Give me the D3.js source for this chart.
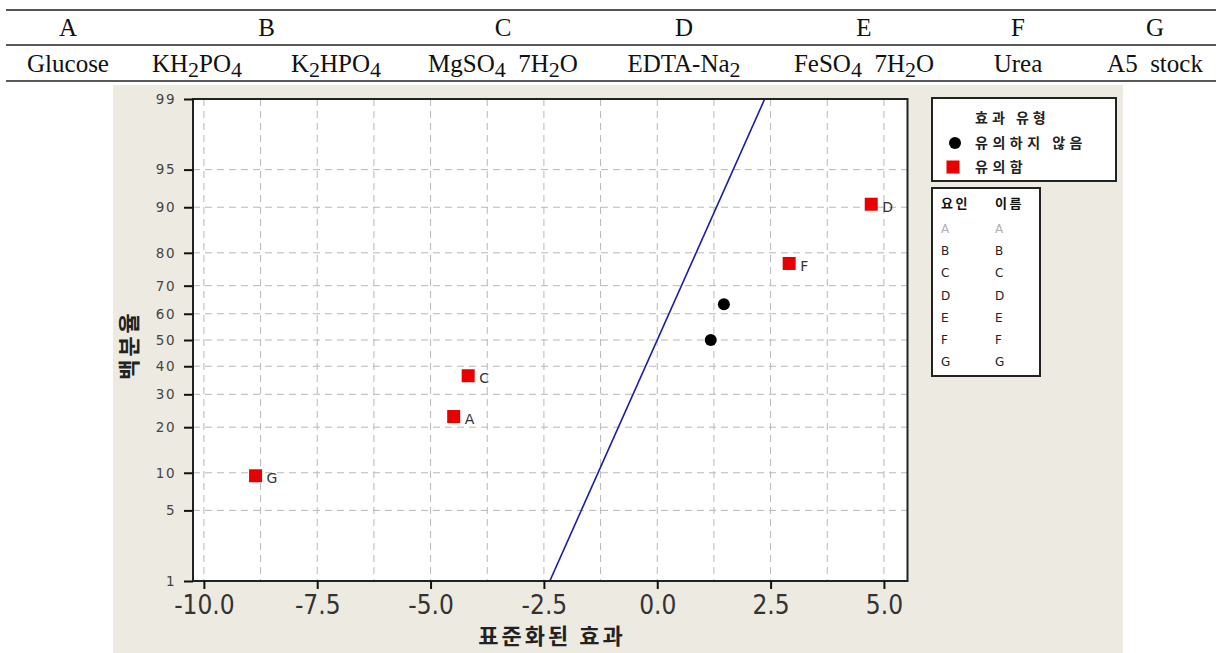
<!DOCTYPE html>
<html><head><meta charset="utf-8">
<script src="https://cdn.jsdelivr.net/npm/d3@7"></script>
<style>
body{margin:0;background:#fff}
svg{display:block}
</style>
</head><body>
<svg id="chart" width="1220" height="653"></svg>
<script>
// Factor table: codes and component names ("_d" marks a subscript digit)
const factorCodes = ["A","B","C","D","E","F","G"];
const componentNames = ["Glucose","KH_2PO_4","K_2HPO_4","MgSO_4  7H_2O","EDTA-Na_2","FeSO_4  7H_2O","Urea","A5  stock"];
const componentFactor = ["A","B","B","C","D","E","F","G"];

// Standardized effects with their normal-probability percentiles
const effectLabels = ["G","A","C","B","E","F","D"];
const effectValues = [-8.86, -4.49, -4.17, 1.18, 1.47, 2.91, 4.72];
const effectPercents = [9.5, 23.0, 36.5, 50.0, 63.5, 77.0, 90.5];
const effectSignificant = [true, true, true, false, false, true, true];

// Reference line end points (effect, percent)
const refEffects = [-2.37, 2.37];
const refPercents = [1, 99];

// Axis ticks
const xTickValues = [-10, -7.5, -5, -2.5, 0, 2.5, 5];
const yTickPercents = [1, 5, 10, 20, 30, 40, 50, 60, 70, 80, 90, 95, 99];

// Legend texts
const legendTitle = "효과 유형";
const legendItems = ["유의하지 않음", "유의함"];
const factorListHeader = ["요인", "이름"];
const xTitle = "표준화된 효과";
const yTitle = "백분율";

// Inverse standard normal CDF (Acklam's rational approximation)
function probit(p){
  const a=[-3.969683028665376e+01,2.209460984245205e+02,-2.759285104469687e+02,1.383577518672690e+02,-3.066479806614716e+01,2.506628277459239e+00];
  const b=[-5.447609879822406e+01,1.615858368580409e+02,-1.556989798598866e+02,6.680131188771972e+01,-1.328068155288572e+01];
  const c=[-7.784894002430293e-03,-3.223964580411365e-01,-2.400758277161838e+00,-2.549732539343734e+00,4.374664141464968e+00,2.938163982698783e+00];
  const d=[7.784695709041462e-03,3.224671290700398e-01,2.445134137142996e+00,3.754408661907416e+00];
  const pl=0.02425;
  let q,r;
  if(p<pl){q=Math.sqrt(-2*Math.log(p));return (((((c[0]*q+c[1])*q+c[2])*q+c[3])*q+c[4])*q+c[5])/((((d[0]*q+d[1])*q+d[2])*q+d[3])*q+1);}
  if(p>1-pl){q=Math.sqrt(-2*Math.log(1-p));return -(((((c[0]*q+c[1])*q+c[2])*q+c[3])*q+c[4])*q+c[5])/((((d[0]*q+d[1])*q+d[2])*q+d[3])*q+1);}
  q=p-0.5;r=q*q;
  return (((((a[0]*r+a[1])*r+a[2])*r+a[3])*r+a[4])*r+a[5])*q/(((((b[0]*r+b[1])*r+b[2])*r+b[3])*r+b[4])*r+1);
}

const svg = d3.select("#chart");

// ---------- Factor table ----------
const nameCenters = [68, 197, 336, 503, 684, 864, 1018, 1155];
const table = svg.append("g")
  .style("font-family", "'Liberation Serif','Times New Roman',serif")
  .style("fill", "#111");

table.append("line").attr("x1", 6).attr("x2", 1216).attr("y1", 10).attr("y2", 10)
  .attr("stroke", "#555").attr("stroke-width", 2.2);
table.append("line").attr("x1", 6).attr("x2", 1216).attr("y1", 45).attr("y2", 45)
  .attr("stroke", "#222").attr("stroke-width", 1.3);
table.append("line").attr("x1", 6).attr("x2", 1216).attr("y1", 81).attr("y2", 81)
  .attr("stroke", "#222").attr("stroke-width", 1.3);

factorCodes.forEach(code => {
  const cs = componentFactor.map((f, i) => f === code ? nameCenters[i] : null).filter(v => v !== null);
  table.append("text").attr("x", d3.mean(cs)).attr("y", 36)
    .attr("text-anchor", "middle").style("font-size", "25px").text(code);
});

componentNames.forEach((name, i) => {
  const t = table.append("text").attr("x", nameCenters[i]).attr("y", 72)
    .attr("text-anchor", "middle").style("font-size", "25px")
    .attr("xml:space", "preserve").style("white-space", "pre");
  const parts = name.split(/(_\d)/).filter(s => s.length);
  let sub = false;
  parts.forEach(p => {
    if (p[0] === "_") {
      t.append("tspan").attr("dy", 5).style("font-size", "22px").text(p.slice(1));
      sub = true;
    } else {
      t.append("tspan").attr("dy", sub ? -5 : 0).text(p);
      sub = false;
    }
  });
});

// ---------- Graph panel ----------
svg.append("rect").attr("x", 113).attr("y", 85).attr("width", 1010).attr("height", 568)
  .attr("fill", "#EDEAE2");

const x = d3.scaleLinear().domain([-10.24, 5.52]).range([193, 907.5]);
const y = d3.scaleLinear().domain([probit(0.01), probit(0.99)]).range([581, 99]);
const yP = p => y(probit(p / 100));

const plot = svg.append("g");
plot.append("rect").attr("x", x.range()[0]).attr("y", 99)
  .attr("width", x.range()[1] - x.range()[0]).attr("height", 482).attr("fill", "#fff");

// Dashed grid
const gridColor = "#b8b8b8";
plot.append("g").selectAll("line").data(d3.range(-10, 5.001, 1.25)).join("line")
  .attr("x1", d => x(d)).attr("x2", d => x(d)).attr("y1", 99).attr("y2", 581)
  .attr("stroke", gridColor).attr("stroke-dasharray", "7,5");
plot.append("g").selectAll("line").data(yTickPercents.slice(1, -1)).join("line")
  .attr("x1", x.range()[0]).attr("x2", x.range()[1]).attr("y1", d => yP(d)).attr("y2", d => yP(d))
  .attr("stroke", gridColor).attr("stroke-dasharray", "7,5");

// Reference line
const clipId = "plotclip";
svg.append("clipPath").attr("id", clipId).append("rect")
  .attr("x", x.range()[0]).attr("y", 99).attr("width", x.range()[1] - x.range()[0]).attr("height", 482);
plot.append("path")
  .datum(refEffects.map((e, i) => [e, refPercents[i]]))
  .attr("clip-path", `url(#${clipId})`)
  .attr("d", d3.line().x(d => x(d[0])).y(d => yP(d[1])))
  .attr("fill", "none").attr("stroke", "#1c1ca8").attr("stroke-width", 1.6);

// Frame
plot.append("rect").attr("x", x.range()[0]).attr("y", 99)
  .attr("width", x.range()[1] - x.range()[0]).attr("height", 482)
  .attr("fill", "none").attr("stroke", "#222").attr("stroke-width", 2);

// X axis
const xAxis = plot.append("g").attr("transform", "translate(0,581)")
  .call(d3.axisBottom(x).tickValues(xTickValues).tickSize(8).tickPadding(7)
    .tickFormat(d => d.toFixed(1)));
xAxis.select(".domain").remove();
xAxis.selectAll(".tick line").attr("stroke", "#111").attr("stroke-width", 2);
xAxis.selectAll(".tick text")
  .style("font-family", "'Liberation Sans Narrow','DejaVu Sans Condensed','Liberation Sans',sans-serif")
  .style("font-stretch", "condensed")
  .style("font-size", "26px").attr("fill", "#333");

// Y axis
const yAxis = plot.append("g").attr("transform", `translate(${x.range()[0]},0)`)
  .call(d3.axisLeft(y).tickValues(yTickPercents.map(p => probit(p / 100)))
    .tickSize(9).tickPadding(8).tickFormat((d, i) => yTickPercents[i]));
yAxis.select(".domain").remove();
yAxis.selectAll(".tick line").attr("stroke", "#111").attr("stroke-width", 2);
yAxis.selectAll(".tick text")
  .style("font-family", "'DejaVu Sans',sans-serif")
  .style("font-size", "13.5px").style("letter-spacing", "1.5px").attr("fill", "#444");

// Axis titles
svg.append("text").attr("x", 552).attr("y", 644).attr("text-anchor", "middle")
  .style("font-family", "'Noto Sans CJK KR',sans-serif").style("font-weight", "bold")
  .style("font-size", "22px").style("letter-spacing", "3px").attr("fill", "#222").text(xTitle);
svg.append("text").attr("transform", "translate(137,345) rotate(-90)").attr("text-anchor", "middle")
  .style("font-family", "'Noto Sans CJK KR',sans-serif").style("font-weight", "bold")
  .style("font-size", "22px").style("letter-spacing", "3px").attr("fill", "#222").text(yTitle);

// Effect points
const pts = effectValues.map((v, i) => ({v, p: effectPercents[i], lab: effectLabels[i], sig: effectSignificant[i]}));
const ptG = plot.append("g");
ptG.selectAll("rect").data(pts.filter(d => d.sig)).join("rect")
  .attr("x", d => x(d.v) - 6.5).attr("y", d => yP(d.p) - 6.5)
  .attr("width", 13).attr("height", 13).attr("fill", "#e80000");
ptG.selectAll("circle").data(pts.filter(d => !d.sig)).join("circle")
  .attr("cx", d => x(d.v)).attr("cy", d => yP(d.p)).attr("r", 6).attr("fill", "#000");
ptG.selectAll("text").data(pts.filter(d => d.sig)).join("text")
  .attr("x", d => x(d.v) + 11).attr("y", d => yP(d.p) + 7.5)
  .style("font-family", "'DejaVu Sans',sans-serif").style("font-size", "14px")
  .attr("fill", "#333").text(d => d.lab);

// ---------- Legends ----------
const lg = svg.append("g").style("font-family", "'Noto Sans CJK KR',sans-serif");
lg.append("rect").attr("x", 932).attr("y", 98).attr("width", 184).attr("height", 83)
  .attr("fill", "#fff").attr("stroke", "#222").attr("stroke-width", 2);
lg.append("text").attr("x", 975).attr("y", 123).style("font-size", "14px")
  .style("letter-spacing", "4px").style("font-weight", "bold").attr("fill", "#222").text(legendTitle);
lg.append("circle").attr("cx", 955).attr("cy", 143).attr("r", 6).attr("fill", "#000");
lg.append("rect").attr("x", 946.5).attr("y", 160.5).attr("width", 13).attr("height", 13).attr("fill", "#e80000");
legendItems.forEach((t, i) => {
  lg.append("text").attr("x", 975).attr("y", 148 + i * 23.5).style("font-size", "14px")
    .style("letter-spacing", "4.5px").style("font-weight", "bold").attr("fill", "#222").text(t);
});

lg.append("rect").attr("x", 932).attr("y", 188).attr("width", 108).attr("height", 188)
  .attr("fill", "#fff").attr("stroke", "#222").attr("stroke-width", 2);
const colX = [941, 995];
factorListHeader.forEach((t, i) => {
  lg.append("text").attr("x", colX[i]).attr("y", 208).style("font-size", "13px")
    .style("letter-spacing", "2.5px").style("font-weight", "bold").attr("fill", "#111").text(t);
});
factorCodes.forEach((c, i) => {
  [c, c].forEach((t, j) => {
    lg.append("text").attr("x", colX[j]).attr("y", 233 + i * 22.2)
      .style("font-family", "'DejaVu Sans',sans-serif").style("font-size", "12px")
      .attr("fill", i === 0 ? "#b0b0b0" : "#222").text(t);
  });
});
</script>
</body></html>
